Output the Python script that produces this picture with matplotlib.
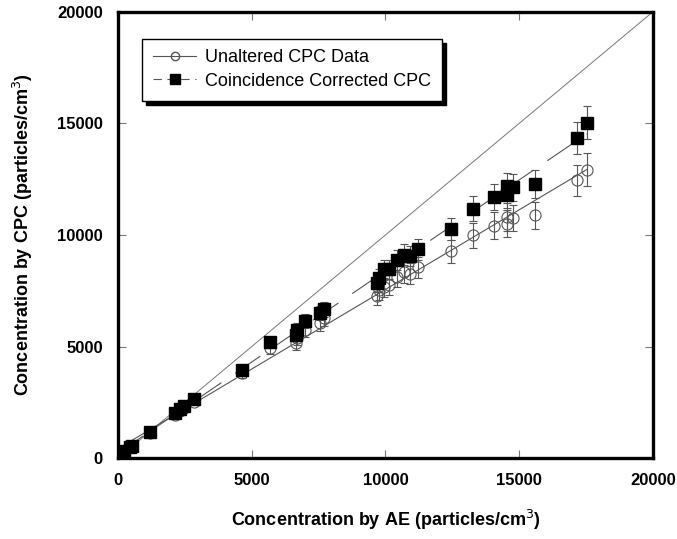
import numpy as np
import matplotlib
matplotlib.use("Agg")
import matplotlib.pyplot as plt
from matplotlib.lines import Line2D

plt.rcParams['font.family'] = ['Liberation Sans', 'DejaVu Sans']
plt.rcParams['lines.scale_dashes'] = False

# AE reference concentration (particles/cm3)
ae_conc = [80, 240, 440, 510, 1210, 2120, 2320, 2480, 2860, 4620, 5680, 6660,
           6690, 6990, 7560, 7690, 9680, 9770, 9950, 10150, 10440, 10710, 10910,
           11210, 12460, 13290, 14070, 14540, 14540, 14770, 15580, 17150, 17530]

# CPC raw readings (open circles)
cpc_raw = [120, 310, 480, 520, 1110, 1930, 2100, 2240, 2530, 3800, 4925, 5150,
           5375, 5750, 6050, 6270, 7280, 7515, 7650, 7770, 8140, 8320, 8260,
           8550, 9270, 10000, 10420, 10810, 10510, 10760, 10880, 12455, 12930]
cpc_raw_err = [10, 20, 30, 30, 60, 110, 120, 130, 140, 210, 280, 290,
               300, 320, 340, 350, 410, 420, 430, 440, 460, 470, 470,
               480, 520, 560, 590, 610, 590, 600, 620, 700, 730]

# coincidence corrected CPC (filled squares)
cpc_corr = [130, 330, 510, 550, 1150, 2010, 2190, 2340, 2650, 3950, 5190, 5520,
            5750, 6150, 6500, 6680, 7840, 8070, 8470, 8470, 8890, 9120, 9040,
            9370, 10270, 11170, 11690, 12190, 11810, 12140, 12290, 14360, 15030]
cpc_corr_err = [10, 20, 30, 30, 60, 100, 110, 120, 130, 200, 260, 280,
                290, 310, 330, 340, 390, 400, 420, 420, 440, 460, 450,
                470, 510, 560, 580, 610, 590, 610, 620, 720, 750]

fig = plt.figure(figsize=(6.77, 5.39), dpi=100)
ax = fig.add_axes([0.1743, 0.150, 0.790, 0.828])

gray = '#555555'

# 1:1 line
ax.plot([0, 20000], [0, 20000], color='#777777', lw=0.7, zorder=1)

# linear fits
x = np.array(ae_conc)
p_raw = np.polyfit(x, cpc_raw, 1)
p_corr = np.polyfit(x, cpc_corr, 1)
xf = np.array([0, x.max()])
ax.plot(xf, np.polyval(p_raw, xf), color=gray, lw=0.8, zorder=2)
ax.plot(xf, np.polyval(p_corr, xf), color=gray, lw=0.8, dashes=(22, 12), zorder=2)

ax.errorbar(ae_conc, cpc_raw, yerr=cpc_raw_err, fmt='o', ms=8, mfc='none',
            mec=gray, mew=0.8, ecolor=gray, elinewidth=0.8, capsize=3,
            capthick=0.8, zorder=3)
ax.errorbar(ae_conc, cpc_corr, yerr=cpc_corr_err, fmt='s', ms=8.7, mfc='black',
            mec='black', ecolor=gray, elinewidth=0.8, capsize=3,
            capthick=0.8, zorder=4)

ax.set_xlim(0, 20000)
ax.set_ylim(0, 20000)
ax.set_xticks([0, 5000, 10000, 15000, 20000])
ax.set_yticks([0, 5000, 10000, 15000, 20000])
ax.tick_params(direction='in', length=6, width=0.8, color='#777777',
               top=True, right=True, labelsize=12, pad=11)
for lab in ax.get_xticklabels() + ax.get_yticklabels():
    lab.set_fontweight('bold')
for s in ax.spines.values():
    s.set_linewidth(2.4)

ax.set_xlabel('Concentration by AE (particles/cm$^3$)', fontsize=13,
              fontweight='bold', labelpad=14)
ax.set_ylabel('Concentration by CPC (particles/cm$^3$)', fontsize=13,
              fontweight='bold', labelpad=16)

handles = [
    Line2D([], [], color=gray, lw=0.8, marker='o', ms=6, mfc='none', mec=gray),
    Line2D([], [], color=gray, lw=0.8, dashes=(6, 4), marker='s', ms=7,
           mfc='black', mec='black'),
]
leg = ax.legend(handles, ['Unaltered CPC Data', 'Coincidence Corrected CPC'],
                loc='upper left', bbox_to_anchor=(0.045, 0.94), borderaxespad=0,
                fontsize=13, fancybox=False, framealpha=1, edgecolor='black',
                shadow={'color': 'black', 'alpha': 1, 'ox': 3, 'oy': -3},
                handlelength=2.4, borderpad=0.6, labelspacing=0.35,
                handletextpad=0.5)
leg.get_frame().set_linewidth(1.0)

fig.savefig('out.png', dpi=100)
